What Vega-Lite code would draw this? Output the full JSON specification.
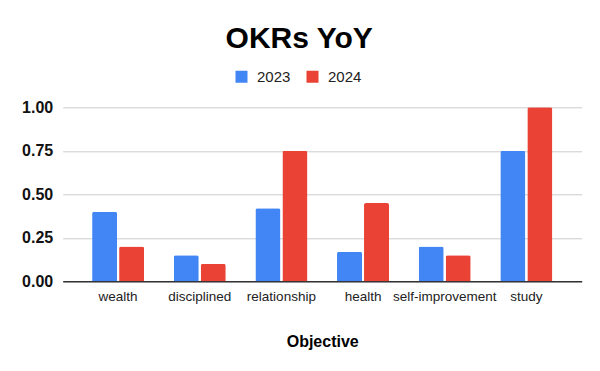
{
  "$schema": "https://vega.github.io/schema/vega-lite/v6.json",
  "autosize": {"type": "none"},
  "width": 519,
  "height": 174,
  "padding": {"left": 62.7, "top": 107.3, "right": 18.3, "bottom": 89.7},
  "background": "white",
  "title": {
    "text": "OKRs YoY",
    "font": "Liberation Sans",
    "fontSize": 30,
    "fontWeight": "bold",
    "color": "#000000",
    "anchor": "middle",
    "dx": -23,
    "offset": 15
  },
  "data": {
    "values": [
      {"objective": "wealth", "year": "2023", "value": 0.40},
      {"objective": "wealth", "year": "2024", "value": 0.20},
      {"objective": "disciplined", "year": "2023", "value": 0.15},
      {"objective": "disciplined", "year": "2024", "value": 0.10},
      {"objective": "relationship", "year": "2023", "value": 0.42},
      {"objective": "relationship", "year": "2024", "value": 0.75},
      {"objective": "health", "year": "2023", "value": 0.17},
      {"objective": "health", "year": "2024", "value": 0.45},
      {"objective": "self-improvement", "year": "2023", "value": 0.20},
      {"objective": "self-improvement", "year": "2024", "value": 0.15},
      {"objective": "study", "year": "2023", "value": 0.75},
      {"objective": "study", "year": "2024", "value": 1.00}
    ]
  },
  "mark": {"type": "bar", "cornerRadiusTopLeft": 2, "cornerRadiusTopRight": 2},
  "encoding": {
    "x": {
      "field": "objective",
      "type": "nominal",
      "sort": null,
      "title": "Objective",
      "scale": {"paddingInner": 0.363, "paddingOuter": 0.36},
      "axis": {
        "labelAngle": 0,
        "labelFont": "Liberation Sans",
        "labelFontSize": 13.5,
        "labelColor": "#222222",
        "labelPadding": 8,
        "ticks": false,
        "domainColor": "#333333",
        "domainWidth": 1.5,
        "titleFont": "Liberation Sans",
        "titleFontSize": 16,
        "titleFontWeight": "bold",
        "titleColor": "#000000",
        "titlePadding": 31
      }
    },
    "xOffset": {
      "field": "year",
      "type": "nominal",
      "scale": {"paddingInner": 0.074}
    },
    "y": {
      "field": "value",
      "type": "quantitative",
      "title": null,
      "scale": {"domain": [0, 1], "nice": false},
      "axis": {
        "values": [0, 0.25, 0.5, 0.75, 1],
        "format": ".2f",
        "labelFont": "Liberation Sans",
        "labelFontSize": 16,
        "labelFontWeight": "bold",
        "labelColor": "#111111",
        "labelPadding": 10,
        "ticks": false,
        "domain": false,
        "gridColor": "#cccccc",
        "gridWidth": 1
      }
    },
    "color": {
      "field": "year",
      "type": "nominal",
      "title": null,
      "scale": {"domain": ["2023", "2024"], "range": ["#4285F4", "#EA4335"]},
      "legend": {
        "orient": "none",
        "direction": "horizontal",
        "legendX": 171.3,
        "legendY": -38.3,
        "symbolType": "square",
        "symbolSize": 144,
        "symbolStrokeWidth": 0,
        "labelFont": "Liberation Sans",
        "labelFontSize": 15,
        "labelColor": "#222222",
        "labelOffset": 8,
        "columnPadding": 14
      }
    }
  },
  "config": {"view": {"stroke": null}}
}
